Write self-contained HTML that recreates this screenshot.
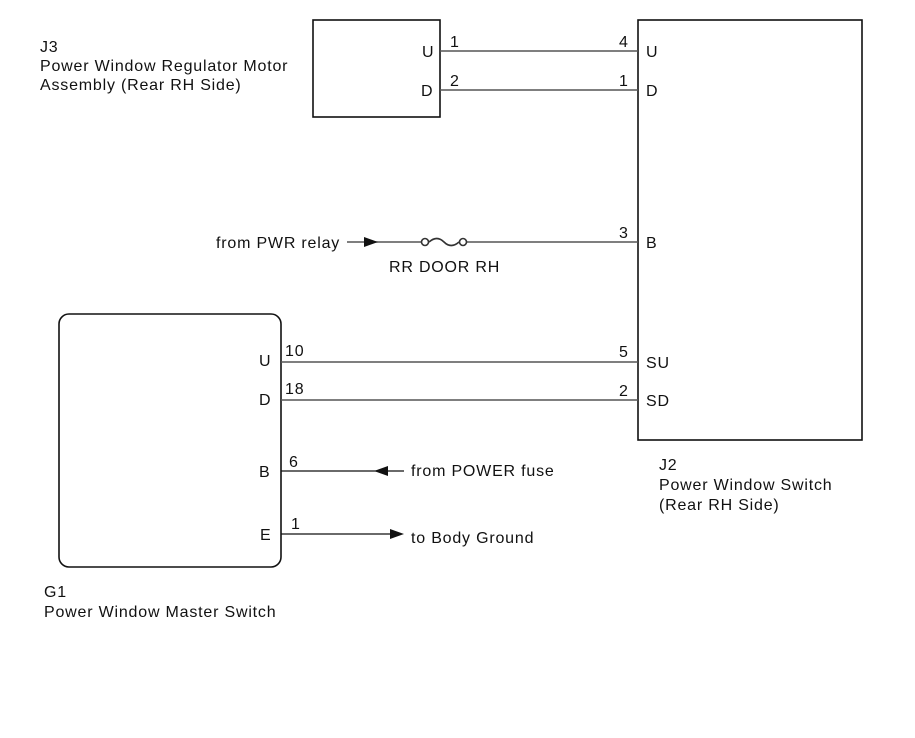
<!DOCTYPE html>
<html><head><style>
body{margin:0;background:#fff}
svg text{font-family:"Liberation Sans",Arial,sans-serif;font-size:16px;letter-spacing:0.8px;fill:#111}
</style></head><body>
<svg width="915" height="733" viewBox="0 0 915 733" xmlns="http://www.w3.org/2000/svg">
<rect width="915" height="733" fill="#fff"/>
<g fill="none" stroke="#111" stroke-width="1.6">
<rect x="313" y="20" width="127" height="97"/>
<rect x="638" y="20" width="224" height="420"/>
<rect x="59" y="314" width="222" height="253" rx="10"/>
</g>
<g stroke="#555" stroke-width="1.6" fill="none">
<line x1="440" y1="51" x2="638" y2="51"/>
<line x1="440" y1="90" x2="638" y2="90"/>
<line x1="347" y1="242" x2="421" y2="242"/>
<line x1="467" y1="242" x2="638" y2="242"/>
<circle cx="425" cy="242" r="3.5" stroke="#333"/>
<circle cx="463" cy="242" r="3.5" stroke="#333"/>
<path d="M429 242 Q437 235 444 242 T459 242" stroke="#333"/>
<line x1="281" y1="362" x2="638" y2="362"/>
<line x1="281" y1="400" x2="638" y2="400"/>
</g>
<g stroke="#111" stroke-width="1.3">
<line x1="281" y1="471" x2="404" y2="471"/>
<line x1="281" y1="534" x2="390" y2="534"/>
</g>
<g fill="#111">
<polygon points="364,237 378,242 364,247"/>
<polygon points="374,471 388,466 388,476"/>
<polygon points="404,534 390,529 390,539"/>
</g>
<text x="40" y="52">J3</text>
<text x="40" y="71">Power Window Regulator Motor</text>
<text x="40" y="90">Assembly (Rear RH Side)</text>
<text x="422" y="57">U</text>
<text x="421" y="96">D</text>
<text x="450" y="47">1</text>
<text x="450" y="86">2</text>
<text x="619" y="47">4</text>
<text x="619" y="86">1</text>
<text x="646" y="57">U</text>
<text x="646" y="96">D</text>
<text x="216" y="248">from PWR relay</text>
<text x="389" y="272">RR DOOR RH</text>
<text x="619" y="238">3</text>
<text x="646" y="248">B</text>
<text x="619" y="357">5</text>
<text x="619" y="396">2</text>
<text x="646" y="368">SU</text>
<text x="646" y="406">SD</text>
<text x="259" y="366">U</text>
<text x="259" y="405">D</text>
<text x="259" y="477">B</text>
<text x="260" y="540">E</text>
<text x="285" y="356">10</text>
<text x="285" y="394">18</text>
<text x="289" y="467">6</text>
<text x="291" y="529">1</text>
<text x="411" y="476">from POWER fuse</text>
<text x="411" y="543">to Body Ground</text>
<text x="659" y="470">J2</text>
<text x="659" y="490">Power Window Switch</text>
<text x="659" y="510">(Rear RH Side)</text>
<text x="44" y="597">G1</text>
<text x="44" y="617">Power Window Master Switch</text>
</svg>
</body></html>
